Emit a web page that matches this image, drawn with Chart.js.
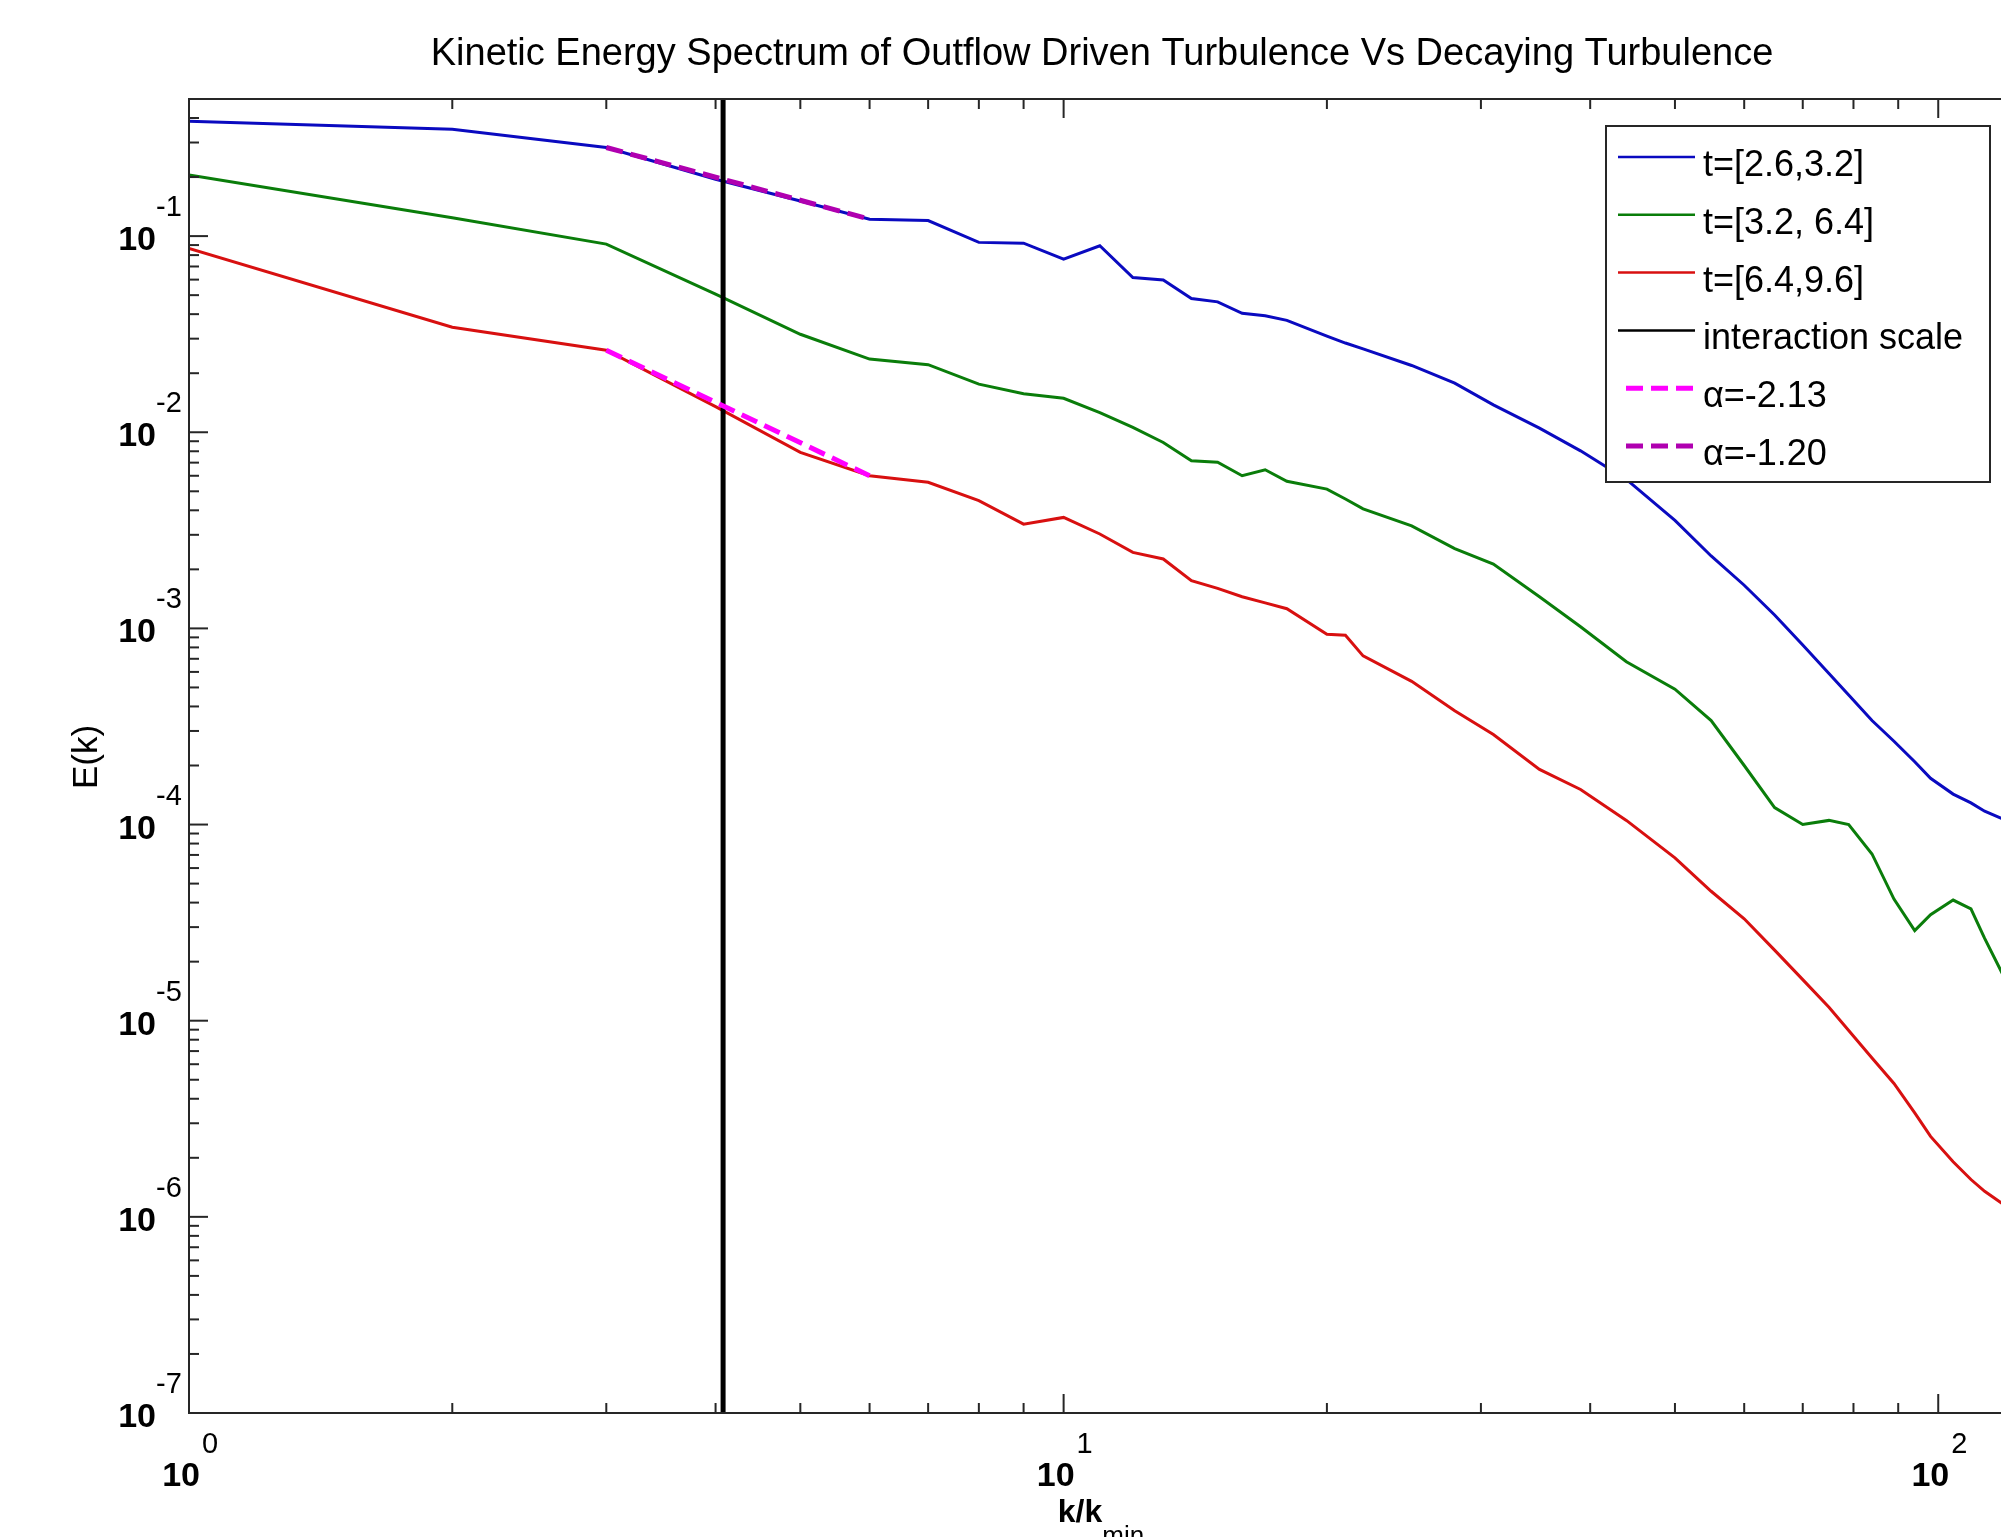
<!DOCTYPE html>
<html>
<head>
<meta charset="utf-8">
<title>Kinetic Energy Spectrum</title>
<script src="https://cdn.jsdelivr.net/npm/chart.js@4.4.1/dist/chart.umd.min.js"></script>
<style>
  html, body { margin: 0; padding: 0; background: #fff; overflow: hidden; }
  #wrap { width: 2001px; height: 1537px; overflow: hidden; }
</style>
</head>
<body>
<div id="wrap"><canvas id="spectrum" width="2032" height="1537"></canvas></div>
<script>
// wavenumbers k/k_min at which the spectra were read
const kValues = [1, 2, 3, 4, 5, 6, 7, 8, 9, 10, 11, 12, 13, 14, 15, 16, 17, 18, 20, 21, 22,
  25, 28, 31, 35, 39, 44, 50, 55, 60, 65, 70, 75, 79, 84, 89, 94, 98, 104, 109, 113, 119];

// E(k) for t=[2.6,3.2]
const energyEarly = [0.385, 0.351, 0.283, 0.195, 0.151, 0.122, 0.120, 9.29e-2, 9.20e-2, 7.64e-2,
  8.93e-2, 6.15e-2, 5.97e-2, 4.81e-2, 4.62e-2, 4.04e-2, 3.93e-2, 3.72e-2, 3.09e-2, 2.85e-2, 2.66e-2,
  2.19e-2, 1.78e-2, 1.38e-2, 1.05e-2, 8.04e-3, 5.75e-3, 3.55e-3, 2.34e-3, 1.66e-3, 1.17e-3,
  8.22e-4, 5.89e-4, 4.57e-4, 3.39e-4, 2.66e-4, 2.09e-4, 1.72e-4, 1.43e-4, 1.29e-4, 1.17e-4, 1.06e-4];

// E(k) for t=[3.2, 6.4]
const energyMid = [0.205, 0.124, 9.10e-2, 5.06e-2, 3.16e-2, 2.36e-2, 2.21e-2, 1.76e-2, 1.57e-2, 1.49e-2,
  1.26e-2, 1.06e-2, 8.87e-3, 7.16e-3, 7.03e-3, 6.00e-3, 6.44e-3, 5.62e-3, 5.13e-3, 4.57e-3, 4.07e-3,
  3.33e-3, 2.55e-3, 2.13e-3, 1.45e-3, 1.02e-3, 6.76e-4, 4.90e-4, 3.39e-4, 2.00e-4, 1.22e-4,
  1.00e-4, 1.05e-4, 1.00e-4, 7.08e-5, 4.17e-5, 2.88e-5, 3.47e-5, 4.12e-5, 3.72e-5, 2.63e-5, 1.66e-5];

// E(k) for t=[6.4,9.6]
const energyLate = [8.65e-2, 3.43e-2, 2.62e-2, 1.35e-2, 7.89e-3, 6.00e-3, 5.56e-3, 4.48e-3, 3.40e-3, 3.68e-3,
  3.03e-3, 2.44e-3, 2.26e-3, 1.75e-3, 1.60e-3, 1.45e-3, 1.35e-3, 1.26e-3, 9.33e-4, 9.23e-4, 7.24e-4,
  5.37e-4, 3.80e-4, 2.88e-4, 1.91e-4, 1.51e-4, 1.05e-4, 6.76e-5, 4.57e-5, 3.31e-5, 2.29e-5,
  1.62e-5, 1.17e-5, 8.91e-6, 6.46e-6, 4.79e-6, 3.39e-6, 2.57e-6, 1.91e-6, 1.55e-6, 1.35e-6, 1.15e-6];

// power-law fits, end points
const fitK = [3, 6];
const fitSteep = [2.62e-2, 6.00e-3];   // alpha = -2.13
const fitShallow = [0.283, 0.122];     // alpha = -1.20

// interaction scale
const interactionK = 4.08;
const interactionE = [1e-7, 0.5];

// axes
const xRange = [1, 128];
const yRange = [1e-7, 0.5];
const xDecades = [1, 10, 100];
const xExponents = ['0', '1', '2'];
const yDecades = [1e-7, 1e-6, 1e-5, 1e-4, 1e-3, 1e-2, 1e-1];
const yExponents = ['-7', '-6', '-5', '-4', '-3', '-2', '-1'];
const minorSteps = [2, 3, 4, 5, 6, 7, 8, 9];

const FONT = '"Liberation Sans", Arial, Helvetica, sans-serif';

function pairs(xs, ys) {
    return xs.map((x, i) => ({ x: x, y: ys[i] }));
}

// MATLAB-like axes box, inward ticks, labels, title and legend
const matlabFrame = {
    id: 'matlabFrame',
    afterDraw(chart) {
        const ctx = chart.ctx;
        const area = chart.chartArea;
        const xs = chart.scales.x;
        const ys = chart.scales.y;

        ctx.save();
        ctx.strokeStyle = '#262626';
        ctx.lineWidth = 2;
        ctx.strokeRect(area.left, area.top, area.right - area.left, area.bottom - area.top);

        const tick = (x1, y1, x2, y2) => {
            ctx.beginPath();
            ctx.moveTo(x1, y1);
            ctx.lineTo(x2, y2);
            ctx.stroke();
        };

        // x ticks
        xDecades.forEach(d => {
            [1].concat(minorSteps).forEach(m => {
                const v = d * m;
                if (v < xRange[0] || v > xRange[1]) return;
                const px = xs.getPixelForValue(v);
                const len = m === 1 ? 19 : 10;
                tick(px, area.bottom, px, area.bottom - len);
                tick(px, area.top, px, area.top + len);
            });
        });
        // y ticks
        yDecades.concat([1]).forEach(d => {
            [1].concat(minorSteps).forEach(m => {
                const v = d * m;
                if (v < yRange[0] * 0.999 || v > yRange[1] * 1.001) return;
                const py = ys.getPixelForValue(v);
                const len = m === 1 ? 19 : 10;
                tick(area.left, py, area.left + len, py);
                tick(area.right, py, area.right - len, py);
            });
        });

        ctx.fillStyle = '#000';

        // y tick labels
        yDecades.forEach((d, i) => {
            const py = ys.getPixelForValue(d);
            ctx.font = 'bold 34px ' + FONT;
            ctx.textAlign = 'right';
            ctx.textBaseline = 'alphabetic';
            ctx.fillText('10', 156, py + 14);
            ctx.font = '29px ' + FONT;
            ctx.textAlign = 'left';
            ctx.fillText(yExponents[i], 156, py - 20);
        });

        // x tick labels
        xDecades.forEach((d, i) => {
            const px = xs.getPixelForValue(d);
            ctx.font = 'bold 34px ' + FONT;
            ctx.textAlign = 'right';
            ctx.textBaseline = 'alphabetic';
            ctx.fillText('10', px + 11, 1486);
            ctx.font = '29px ' + FONT;
            ctx.textAlign = 'left';
            ctx.fillText(xExponents[i], px + 13, 1453);
        });

        // title
        ctx.font = '38px ' + FONT;
        ctx.textAlign = 'center';
        ctx.textBaseline = 'alphabetic';
        ctx.fillText('Kinetic Energy Spectrum of Outflow Driven Turbulence Vs Decaying Turbulence', 1102, 65);

        // x axis label k/k_min
        ctx.font = 'bold 32px ' + FONT;
        const wMain = ctx.measureText('k/k').width;
        ctx.font = '26px ' + FONT;
        const wSub = ctx.measureText('min').width;
        const startX = 1101 - (wMain + wSub) / 2;
        ctx.textAlign = 'left';
        ctx.font = 'bold 32px ' + FONT;
        ctx.fillText('k/k', startX, 1522);
        ctx.font = '26px ' + FONT;
        ctx.fillText('min', startX + wMain, 1544);

        // y axis label
        ctx.save();
        ctx.translate(87, 757);
        ctx.rotate(-Math.PI / 2);
        ctx.font = '35px ' + FONT;
        ctx.textAlign = 'center';
        ctx.textBaseline = 'middle';
        ctx.fillText('E(k)', 0, 0);
        ctx.restore();

        // legend
        const box = { left: 1606, top: 126, right: 1990, bottom: 482 };
        ctx.fillStyle = '#fff';
        ctx.fillRect(box.left, box.top, box.right - box.left, box.bottom - box.top);
        ctx.strokeStyle = '#262626';
        ctx.lineWidth = 2;
        ctx.strokeRect(box.left, box.top, box.right - box.left, box.bottom - box.top);

        chart.data.datasets.forEach((ds, i) => {
            const rowY = 157 + i * 57.8;
            ctx.strokeStyle = ds.borderColor;
            ctx.lineWidth = ds.borderDash ? 5 : 2.5;
            ctx.setLineDash(ds.borderDash || []);
            ctx.beginPath();
            ctx.moveTo(ds.borderDash ? 1626 : 1618, rowY);
            ctx.lineTo(1695, rowY);
            ctx.stroke();
            ctx.setLineDash([]);
            ctx.fillStyle = '#000';
            ctx.font = '36px ' + FONT;
            ctx.textAlign = 'left';
            ctx.textBaseline = 'alphabetic';
            ctx.fillText(ds.label, 1703, rowY + 19);
        });
        ctx.restore();
    }
};

const ctx = document.getElementById('spectrum').getContext('2d');
const chart = new Chart(ctx, {
    type: 'line',
    data: {
        datasets: [
            { label: 't=[2.6,3.2]', data: pairs(kValues, energyEarly), borderColor: '#0a0ac0', borderWidth: 3, order: 4 },
            { label: 't=[3.2, 6.4]', data: pairs(kValues, energyMid), borderColor: '#0a7d0a', borderWidth: 3, order: 3 },
            { label: 't=[6.4,9.6]', data: pairs(kValues, energyLate), borderColor: '#d81010', borderWidth: 3, order: 2 },
            { label: 'interaction scale', data: pairs([interactionK, interactionK], interactionE), borderColor: '#000000', borderWidth: 5, order: 1 },
            { label: 'α=-2.13', data: pairs(fitK, fitSteep), borderColor: '#ff00ff', borderWidth: 5, borderDash: [17, 8], order: 0 },
            { label: 'α=-1.20', data: pairs(fitK, fitShallow), borderColor: '#b000b0', borderWidth: 5, borderDash: [17, 8], order: 0 }
        ]
    },
    options: {
        responsive: false,
        animation: false,
        layout: { padding: { left: 189, top: 99, right: 0, bottom: 124 } },
        elements: {
            point: { radius: 0, hoverRadius: 0 },
            line: { tension: 0, fill: false }
        },
        scales: {
            x: { type: 'logarithmic', min: xRange[0], max: xRange[1], display: false },
            y: { type: 'logarithmic', min: yRange[0], max: yRange[1], display: false }
        },
        plugins: {
            legend: { display: false },
            title: { display: false },
            tooltip: { enabled: false }
        }
    },
    plugins: [matlabFrame]
});
</script>
</body>
</html>
